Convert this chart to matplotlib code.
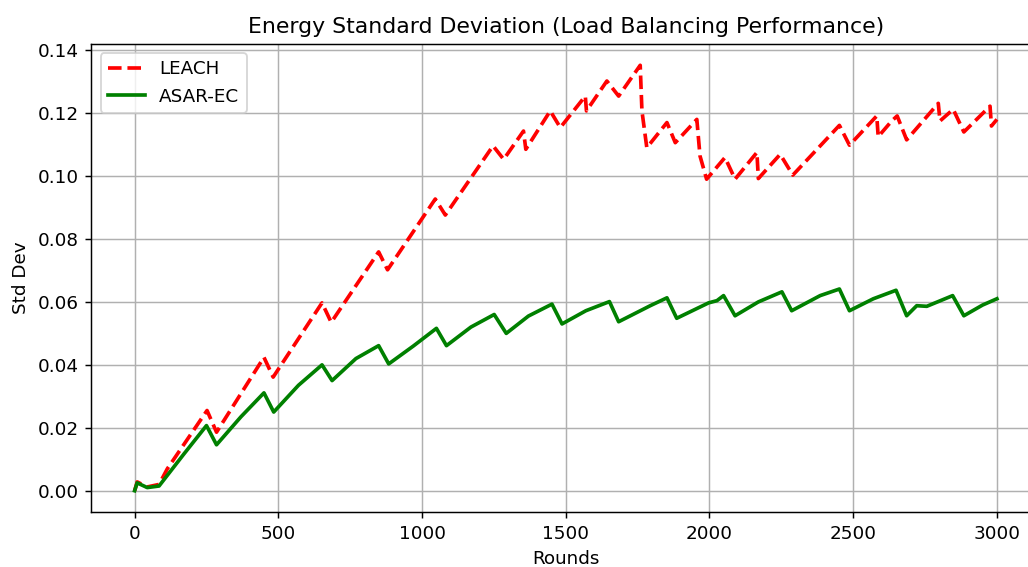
import matplotlib
matplotlib.use('Agg')
from matplotlib import pyplot as plt

# LEACH (at corners of the sawtooth)
leach_rounds = [0, 9, 44, 85, 114, 252, 285, 450, 482, 652, 684, 849, 880, 1046, 1081,
                1247, 1284, 1353, 1361, 1446, 1481, 1568, 1572, 1643, 1684, 1759, 1765,
                1782, 1852, 1881, 1956, 1967, 1990, 2054, 2089, 2165, 2170, 2246, 2290,
                2452, 2487, 2582, 2587, 2634, 2653, 2686, 2796, 2802, 2848, 2885, 2976,
                2981, 3000]
leach_std = [0.0, 0.0028, 0.0012, 0.0020, 0.0070, 0.0255, 0.0186, 0.0424, 0.0361, 0.0597,
             0.0535, 0.0759, 0.0702, 0.0927, 0.0876, 0.1096, 0.1053, 0.1143, 0.1085,
             0.1207, 0.1154, 0.1254, 0.1207, 0.1302, 0.1254, 0.1352, 0.1207, 0.1090,
             0.1170, 0.1106, 0.1180, 0.1064, 0.0990, 0.1059, 0.0990, 0.1075, 0.0992,
             0.1069, 0.1003, 0.1161, 0.1098, 0.1191, 0.1125, 0.1175, 0.1191, 0.1115,
             0.1231, 0.1175, 0.1212, 0.1140, 0.1222, 0.1159, 0.1180]

# ASAR-EC
asar_rounds = [0, 9, 44, 85, 170, 250, 285, 370, 450, 484, 570, 652, 687, 770, 849, 884,
               970, 1050, 1085, 1170, 1251, 1293, 1370, 1452, 1487, 1570, 1652, 1684,
               1794, 1852, 1886, 1997, 2026, 2049, 2089, 2170, 2252, 2286, 2385, 2452,
               2487, 2570, 2649, 2686, 2721, 2756, 2846, 2885, 2950, 3000]
asar_std = [0.0, 0.0025, 0.0010, 0.0015, 0.0115, 0.0207, 0.0146, 0.0235, 0.0311, 0.0250,
            0.0335, 0.0400, 0.0350, 0.0420, 0.0461, 0.0403, 0.0460, 0.0516, 0.0461,
            0.0520, 0.0560, 0.0500, 0.0555, 0.0593, 0.0530, 0.0572, 0.0601, 0.0537,
            0.0588, 0.0613, 0.0548, 0.0597, 0.0604, 0.0620, 0.0556, 0.0600, 0.0632,
            0.0572, 0.0620, 0.0641, 0.0572, 0.0610, 0.0637, 0.0556, 0.0588, 0.0586,
            0.0620, 0.0556, 0.0590, 0.0610]

DPI = 132
fig = plt.figure(figsize=(1028 / DPI, 567 / DPI), dpi=DPI)
# the original picture is cropped on the right, so the axes run past the edge
ax = fig.add_axes([0.089, 0.097, 0.9227, 0.8254])
ax.plot(leach_rounds, leach_std, 'r--', linewidth=2, label='LEACH')
ax.plot(asar_rounds, asar_std, 'g-', linewidth=2, label='ASAR-EC')
ax.set_title('Energy Standard Deviation (Load Balancing Performance)')
ax.set_xlabel('Rounds')
ax.set_ylabel('Std Dev')
ax.legend(loc='upper left')
ax.grid(True)

plt.savefig('out.png', dpi=DPI)
